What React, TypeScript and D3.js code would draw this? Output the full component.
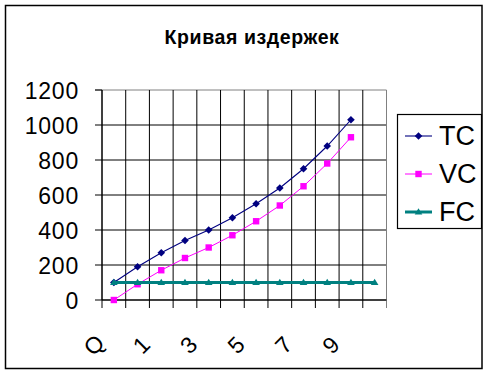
import React from 'react';
import { scaleBand, scaleLinear, line, range } from 'd3';

// категории и ряды
const categories = ['Q', '0', '1', '2', '3', '4', '5', '6', '7', '8', '9', '10'];
const tcValues = [100, 190, 270, 340, 400, 470, 550, 640, 750, 880, 1030];
const vcValues = [0, 90, 170, 240, 300, 370, 450, 540, 650, 780, 930];
const fcValues = [100, 100, 100, 100, 100, 100, 100, 100, 100, 100, 100, 100];
const yTicks = [0, 200, 400, 600, 800, 1000, 1200];
const seriesNames = ['TC', 'VC', 'FC'];

const W = 488;
const H = 374;
const plot = { left: 102, right: 386.5, top: 90, bottom: 300 };
const font = 'Arial, "Liberation Sans", sans-serif';

const x = scaleBand().domain(categories).range([plot.left, plot.right]);
const y = scaleLinear().domain([0, 1200]).range([plot.bottom, plot.top]);
const cx = (i: number) => (x(categories[i]) as number) + x.bandwidth() / 2;

const Marker = ({ kind, px, py, color }: { kind: string; px: number; py: number; color: string }) => {
  if (kind === 'TC')
    return <path d={`M${px},${py - 3.8}L${px + 3.8},${py}L${px},${py + 3.8}L${px - 3.8},${py}Z`} fill={color} />;
  if (kind === 'VC') return <rect x={px - 3.2} y={py - 3.2} width={6.4} height={6.4} fill={color} />;
  return <path d={`M${px},${py - 3.8}L${px + 3.8},${py + 2.6}L${px - 3.8},${py + 2.6}Z`} fill={color} />;
};

export default function App() {
  const series = [
    { name: 'TC', values: tcValues, color: '#000080', width: 1.1 },
    { name: 'VC', values: vcValues, color: '#FF00FF', width: 1 },
    { name: 'FC', values: fcValues, color: '#008080', width: 3 },
  ];
  const path = line<number>()
    .x((_, i) => cx(i))
    .y((d) => y(d));
  const bounds = range(categories.length + 1).map((i) => plot.left + i * x.step());

  return (
    <svg width={W} height={H} style={{ position: 'absolute', left: 0, top: 0 }} fontFamily={font}>
      <rect x={0} y={0} width={W} height={H} fill="#fff" />
      <rect x={5.5} y={5.5} width={476.5} height={363} fill="none" stroke="#000" strokeWidth={1.5} />
      <text x={252} y={44} textAnchor="middle" fontSize={19.5} fontWeight="bold" letterSpacing={0.6}>
        Кривая издержек
      </text>

      {/* сетка */}
      {yTicks.map((t) => (
        <line key={'h' + t} x1={plot.left - 7} x2={plot.right} y1={y(t)} y2={y(t)} stroke={t === 1200 ? '#808080' : '#000'} />
      ))}
      {bounds.map((b, i) => (
        <line key={'v' + i} x1={b} x2={b} y1={plot.top} y2={plot.bottom + 8}
          stroke={i === bounds.length - 1 ? '#808080' : '#000'} />
      ))}
      <line x1={plot.left} x2={plot.left} y1={plot.top} y2={plot.bottom} stroke="#000" />
      <line x1={plot.left - 7} x2={plot.left} y1={plot.top} y2={plot.top} stroke="#000" />
      <line x1={plot.left} x2={plot.right} y1={plot.bottom} y2={plot.bottom} stroke="#000" />

      {yTicks.map((t) => (
        <text key={'yl' + t} x={79} y={y(t) + 1} textAnchor="end" dominantBaseline="central" fontSize={23}
          letterSpacing={0.8}>
          {t}
        </text>
      ))}
      {categories.map((c, i) =>
        i % 2 === 0 ? (
          <text key={'xl' + c} transform={`translate(${cx(i) - 20},345) rotate(-45)`} textAnchor="middle"
            dominantBaseline="central" fontSize={23}>
            {c}
          </text>
        ) : null
      )}

      {series.map((s) => (
        <g key={s.name}>
          <path d={path(s.values) as string} fill="none" stroke={s.color} strokeWidth={s.width} />
          {s.values.map((v, i) => (
            <Marker key={i} kind={s.name} px={cx(i)} py={y(v)} color={s.color} />
          ))}
        </g>
      ))}

      {/* легенда */}
      <rect x={397.5} y={114.5} width={84} height={114} fill="#fff" stroke="#000" strokeWidth={1.2} />
      {seriesNames.map((n, i) => {
        const s = series[i];
        const ly = 136 + i * 38;
        return (
          <g key={'lg' + n}>
            <line x1={405} x2={432} y1={ly} y2={ly} stroke={s.color} strokeWidth={s.width} />
            <Marker kind={n} px={418.5} py={ly} color={s.color} />
            <text x={439} y={ly} dominantBaseline="central" fontSize={27}>
              {n}
            </text>
          </g>
        );
      })}
    </svg>
  );
}
